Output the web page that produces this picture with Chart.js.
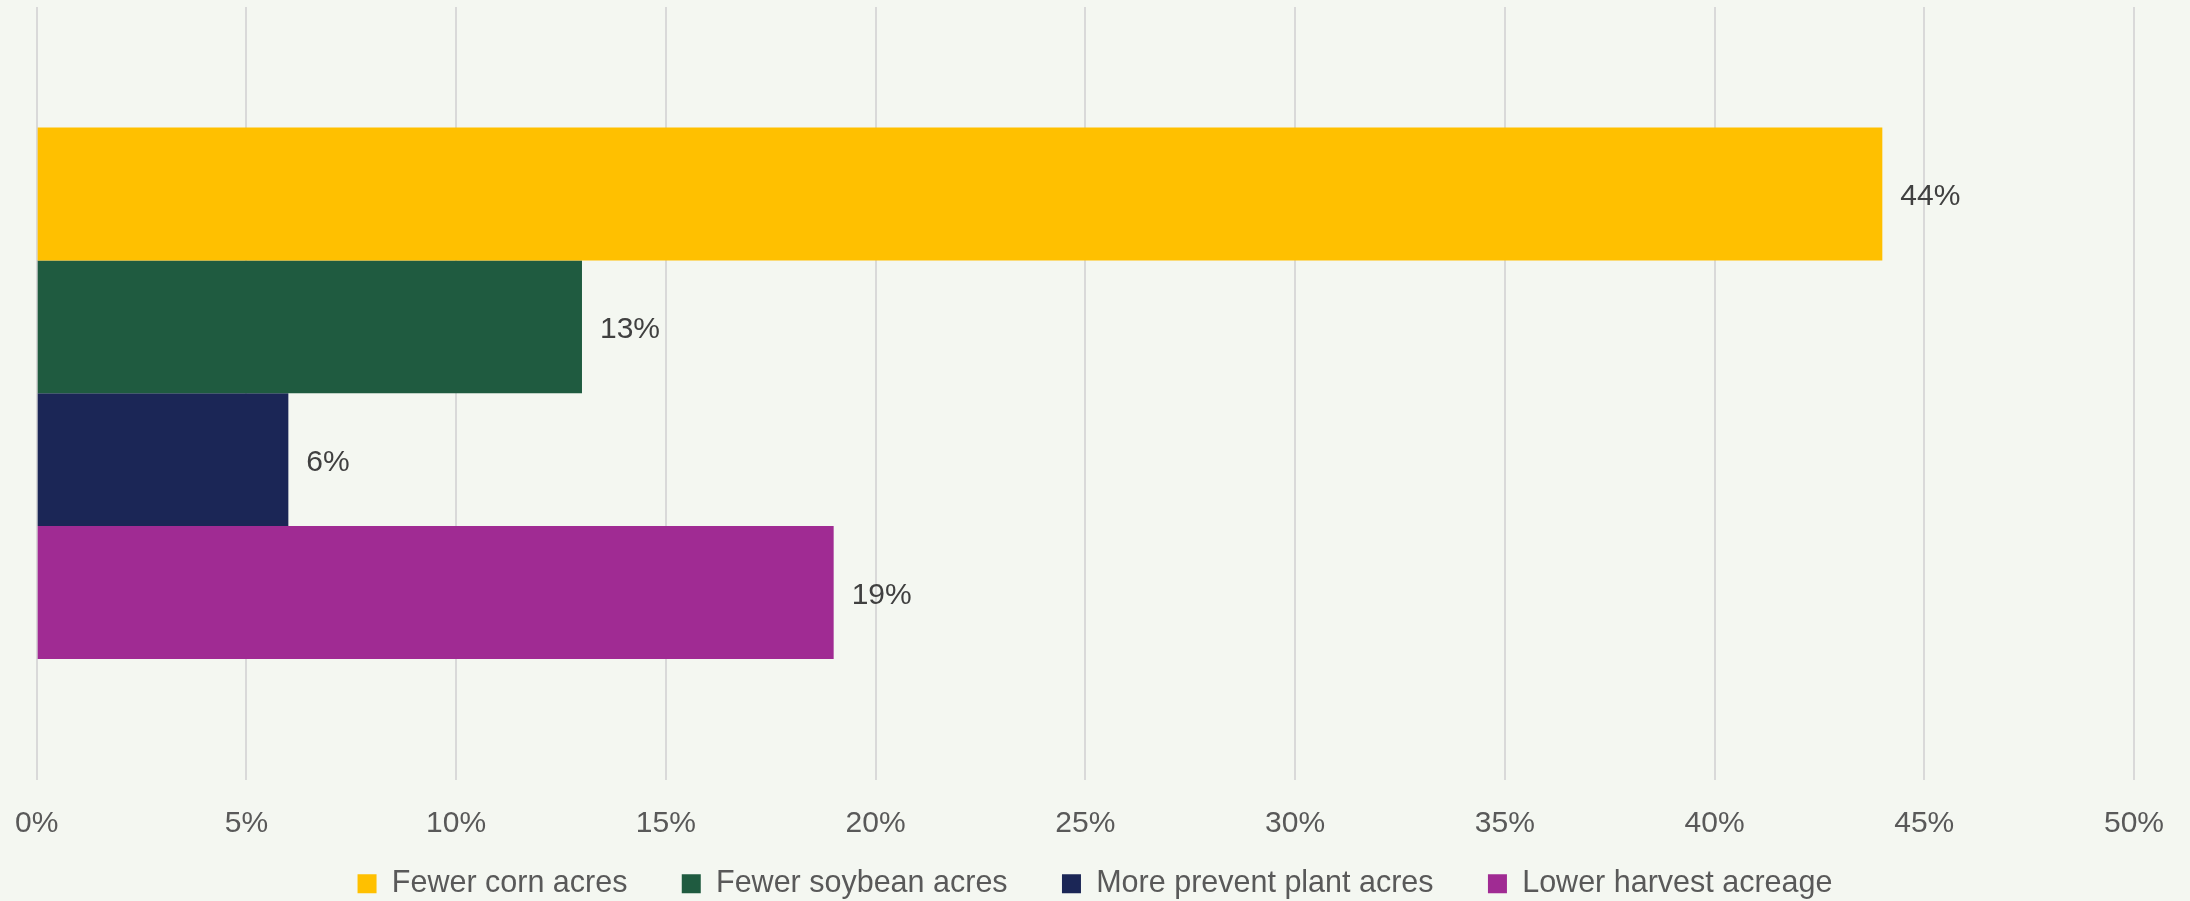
<!DOCTYPE html>
<html>
<head>
<meta charset="utf-8">
<script src="https://cdn.jsdelivr.net/npm/chart.js@4/dist/chart.umd.min.js"></script>
<style>
  html, body { margin: 0; padding: 0; background: #f4f7f1; }
  #wrap { width: 2190px; height: 901px; }
</style>
</head>
<body>
<div id="wrap"><canvas id="myChart"></canvas></div>
<script>
// survey answers, one bar per answer
var categories = ['Response'];
var seriesNames = ['Fewer corn acres', 'Fewer soybean acres', 'More prevent plant acres', 'Lower harvest acreage'];
var seriesValues = [44, 13, 6, 19];
var seriesColors = ['#ffc000', '#1f5b40', '#1b2656', '#a02b93'];
var tickLabels = ['0%', '5%', '10%', '15%', '20%', '25%', '30%', '35%', '40%', '45%', '50%'];

var FONT = '"Liberation Sans", Arial, sans-serif';

// value labels just past the end of each bar
var barLabels = {
    id: 'barLabels',
    afterDatasetsDraw: function (chart) {
        var ctx = chart.ctx;
        ctx.save();
        ctx.font = '30px ' + FONT;
        ctx.fillStyle = '#404040';
        ctx.textAlign = 'left';
        ctx.textBaseline = 'middle';
        chart.data.datasets.forEach(function (ds, i) {
            chart.getDatasetMeta(i).data.forEach(function (bar, j) {
                ctx.fillText(ds.data[j] + '%', bar.x + 18, bar.y + 3);
            });
        });
        ctx.restore();
    }
};

var datasets = seriesNames.map(function (name, i) {
    return {
        label: name,
        data: [seriesValues[i]],
        backgroundColor: seriesColors[i],
        borderWidth: 0,
        barPercentage: 1,
        categoryPercentage: 0.688
    };
});

var ctx = document.getElementById('myChart').getContext('2d');
var chart = new Chart(ctx, {
    type: 'bar',
    data: {
        labels: categories,
        datasets: datasets
    },
    plugins: [barLabels],
    options: {
        indexAxis: 'y',
        responsive: true,
        maintainAspectRatio: false,
        animation: false,
        layout: {
            padding: { top: 7, left: 0, right: 0, bottom: -8 }
        },
        scales: {
            x: {
                min: 0,
                max: 50,
                border: { display: false },
                grid: {
                    color: '#d9d9d9',
                    lineWidth: 2,
                    drawTicks: true,
                    tickLength: 11,
                    tickColor: 'rgba(0,0,0,0)'
                },
                ticks: {
                    stepSize: 5,
                    padding: 15,
                    color: '#595959',
                    font: { family: FONT, size: 30 },
                    callback: function (v, i) { return tickLabels[i]; }
                },
                // leave more room on the right than the last tick label needs,
                // without narrowing the legend row
                afterFit: function (scale) {
                    scale.paddingRight = 56;
                }
            },
            y: {
                display: false
            }
        },
        plugins: {
            legend: {
                position: 'bottom',
                labels: {
                    boxWidth: 19,
                    boxHeight: 19,
                    padding: 12,
                    color: '#595959',
                    font: { family: FONT, size: 30.5 },
                    // widen the gap between entries with trailing spaces
                    generateLabels: function (chart) {
                        var items = Chart.defaults.plugins.legend.labels.generateLabels(chart);
                        items.forEach(function (it, i) {
                            if (i < items.length - 1) it.text = it.text + '     ';
                        });
                        return items;
                    }
                }
            },
            tooltip: { enabled: false }
        }
    }
});
</script>
</body>
</html>
